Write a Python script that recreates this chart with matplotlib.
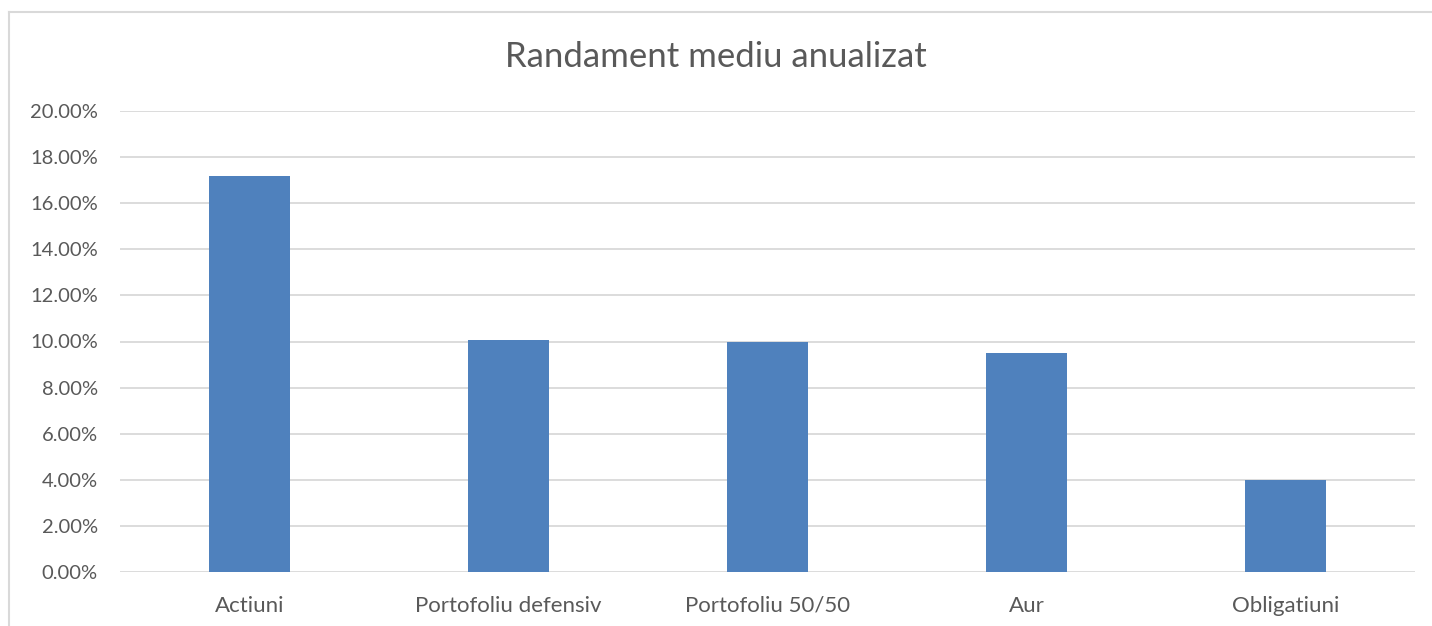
import matplotlib.pyplot as plt
from matplotlib.lines import Line2D
from matplotlib.ticker import PercentFormatter, MultipleLocator

categories = ['Actiuni', 'Portofoliu defensiv', 'Portofoliu 50/50', 'Aur', 'Obligatiuni']
returns = [17.2, 10.05, 9.98, 9.5, 3.97]

plt.rcParams['font.family'] = ['Lato', 'DejaVu Sans']

W, H = 1432, 626
fig = plt.figure(figsize=(W / 100, H / 100), dpi=100)
ax = fig.add_axes([120 / W, 1 - 572 / H, (1415 - 120) / W, (572 - 111) / H])

ax.bar(range(len(categories)), returns, width=0.315, color='#4f81bd', zorder=3)

ax.set_xlim(-0.5, len(categories) - 0.5)
ax.set_ylim(0, 20)
ax.yaxis.set_major_locator(MultipleLocator(2))
ax.yaxis.set_major_formatter(PercentFormatter(decimals=2))
ax.set_xticks(range(len(categories)))
ax.set_xticklabels(categories)

ax.grid(axis='y', color='#d9d9d9', linewidth=1.3, zorder=0)
for s in ax.spines.values():
    s.set_visible(False)
ax.tick_params(axis='both', length=0, colors='#595959')
ax.tick_params(axis='y', pad=16, labelsize=14.5)
ax.tick_params(axis='x', pad=17, labelsize=16)

fig.text(0.5, 1 - 57 / H, 'Randament mediu anualizat', ha='center', va='center',
         fontsize=25, color='#595959')

# chart border (only top and left visible in the crop)
fig.add_artist(Line2D([9 / W, 1], [1 - 12 / H, 1 - 12 / H], color='#d9d9d9', linewidth=1.5,
                      transform=fig.transFigure))
fig.add_artist(Line2D([9 / W, 9 / W], [0, 1 - 12 / H], color='#d9d9d9', linewidth=1.5,
                      transform=fig.transFigure))

fig.savefig('out.png', dpi=100)
